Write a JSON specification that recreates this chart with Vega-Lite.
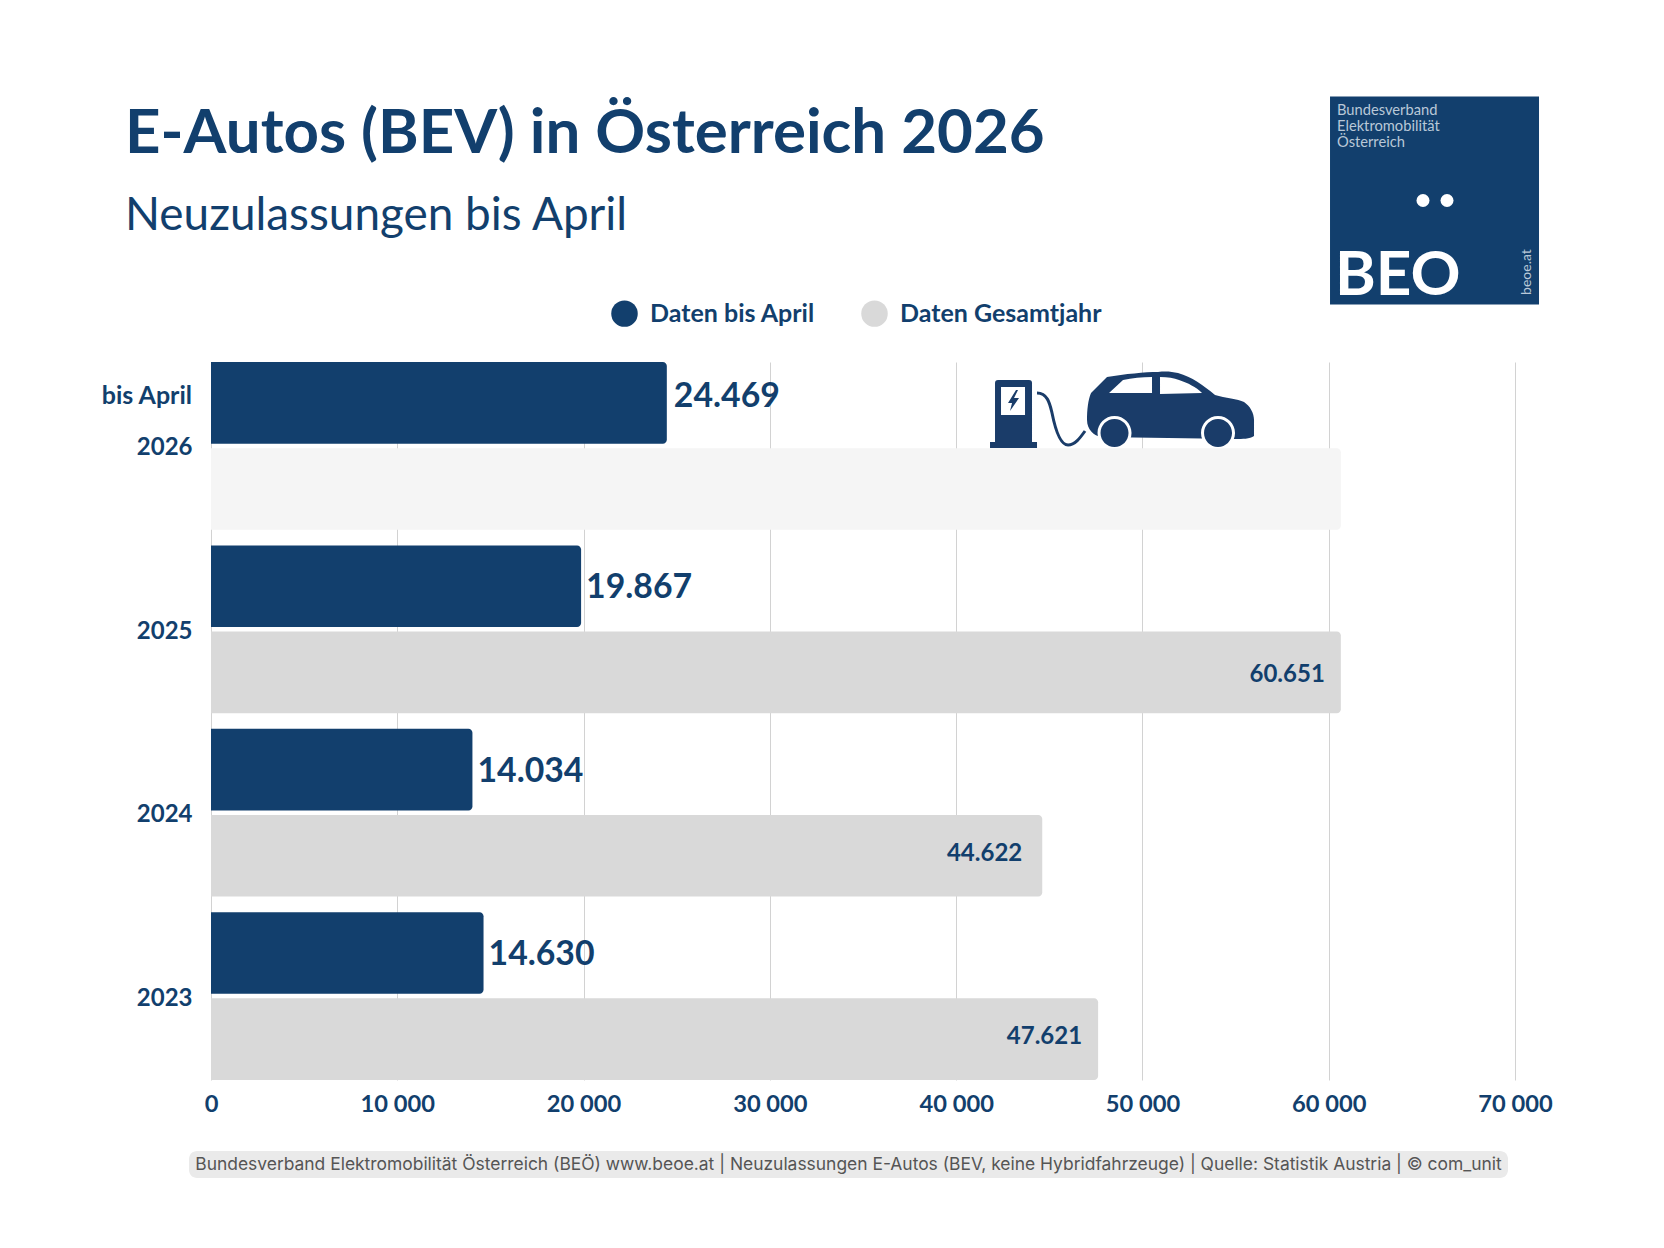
{
  "$schema": "https://vega.github.io/schema/vega-lite/v6.json",
  "description": "E-Autos (BEV) in Oesterreich 2026",
  "background": "white",
  "autosize": "none",
  "width": 1304,
  "height": 718,
  "padding": {"left": 211, "top": 362, "right": 149, "bottom": 168},
  "title": {
    "text": "E-Autos (BEV) in Österreich 2026",
    "subtitle": "Neuzulassungen bis April",
    "anchor": "start",
    "frame": "group",
    "dx": -86,
    "offset": -142,
    "font": "Lato",
    "fontSize": 61.8,
    "fontWeight": "bold",
    "color": "#123f6d",
    "subtitleFont": "Lato",
    "subtitleFontSize": 45.9,
    "subtitleFontWeight": "normal",
    "subtitleColor": "#123f6d",
    "subtitlePadding": 28
  },
  "layer": [
    {
      "data": {"values": [{}]},
      "layer": [
        {
          "mark": {"type": "rect", "color": "#123f6d"},
          "encoding": {
            "x": {"datum": 60070, "type": "quantitative", "scale": {"domain": [0, 70000], "nice": false}},
            "x2": {"datum": 71289},
            "y": {"datum": 96.5, "type": "quantitative", "axis": null, "scale": {"domain": [362, 1080], "reverse": true, "nice": false}},
            "y2": {"datum": 304.6}
          }
        },
        {
          "mark": {"type": "text", "text": ["Bundesverband", "Elektromobilität", "Österreich"], "font": "Lato", "fontSize": 14.7, "lineHeight": 16, "align": "left", "baseline": "middle", "color": "#b9c8d8"},
          "encoding": {
            "x": {"datum": 60446, "type": "quantitative"},
            "y": {"datum": 111, "type": "quantitative", "axis": null}
          }
        },
        {
          "mark": {"type": "point", "shape": "circle", "filled": true, "opacity": 1, "size": 169, "color": "white"},
          "encoding": {
            "x": {"datum": 65061, "type": "quantitative"},
            "y": {"datum": 200.5, "type": "quantitative", "axis": null}
          }
        },
        {
          "mark": {"type": "point", "shape": "circle", "filled": true, "opacity": 1, "size": 169, "color": "white"},
          "encoding": {
            "x": {"datum": 66350, "type": "quantitative"},
            "y": {"datum": 200.5, "type": "quantitative", "axis": null}
          }
        },
        {
          "mark": {"type": "text", "text": "BEO", "font": "Lato", "fontSize": 62, "fontWeight": "bold", "align": "left", "baseline": "alphabetic", "color": "white"},
          "encoding": {
            "x": {"datum": 60338, "type": "quantitative"},
            "y": {"datum": 295, "type": "quantitative", "axis": null}
          }
        },
        {
          "mark": {"type": "text", "text": "beoe.at", "font": "Lato", "fontSize": 14, "angle": 270, "align": "center", "baseline": "middle", "color": "#b9c8d8"},
          "encoding": {
            "x": {"datum": 70644, "type": "quantitative"},
            "y": {"datum": 272, "type": "quantitative", "axis": null}
          }
        },
        {
          "mark": {"type": "point", "filled": true, "opacity": 1, "size": 4, "color": "#1a3c69", "shape": "M-83,10 C-83,0 -82,-10 -79,-17 L-63,-33 C-45,-36 -25,-38 -12,-38 C-3,-39 2,-38 8,-37 C22,-33 33,-25 45,-15 C55,-12 68,-11 74,-8 C80,-4 84,3 84,10 L84,26 C80,29 72,29 66,29 L-70,27 C-76,25 -83,20 -83,10 Z M-175,-27 Q-175,-30 -172,-30 L-141,-30 Q-138,-30 -138,-27 L-138,32 L-133,32 L-133,38 L-180,38 L-180,32 L-175,32 Z"},
          "encoding": {
            "x": {"datum": 51481, "type": "quantitative"},
            "y": {"datum": 410, "type": "quantitative", "axis": null}
          }
        },
        {
          "mark": {"type": "point", "filled": true, "opacity": 1, "size": 4, "color": "white", "shape": "M-61,-17 L-47,-30 C-38,-32 -28,-33 -18,-33 L-18,-17 Z M-10,-33 C-2,-33 4,-32 9,-30 C18,-27 26,-23 32,-17 L-10,-16 Z M-72.5,23 A17,17 0 1,1 -38.5,23 A17,17 0 1,1 -72.5,23 Z M31,23 A17,17 0 1,1 65,23 A17,17 0 1,1 31,23 Z M-169,-23 L-145,-23 L-145,5 L-169,5 Z"},
          "encoding": {
            "x": {"datum": 51481, "type": "quantitative"},
            "y": {"datum": 410, "type": "quantitative", "axis": null}
          }
        },
        {
          "mark": {"type": "point", "filled": true, "opacity": 1, "size": 4, "color": "#1a3c69", "shape": "M-69.5,23 A14,14 0 1,1 -41.5,23 A14,14 0 1,1 -69.5,23 Z M34,23 A14,14 0 1,1 62,23 A14,14 0 1,1 34,23 Z M-154,-20 L-162,-7 L-158,-7 L-160,1 L-151,-12 L-156,-12 L-152,-20 Z"},
          "encoding": {
            "x": {"datum": 51481, "type": "quantitative"},
            "y": {"datum": 410, "type": "quantitative", "axis": null}
          }
        },
        {
          "mark": {"type": "point", "filled": false, "opacity": 1, "size": 4, "strokeWidth": 3, "color": "#1a3c69", "shape": "M-133,-17 C-122,-17 -120,-5 -118,3 C-115,18 -110,35 -102,35 C-95,35 -90,28 -85,21"},
          "encoding": {
            "x": {"datum": 51481, "type": "quantitative"},
            "y": {"datum": 410, "type": "quantitative", "axis": null}
          }
        },
        {
          "mark": {"type": "rect", "color": "#eaeaea", "cornerRadius": 8},
          "encoding": {
            "x": {"datum": -1181, "type": "quantitative"},
            "x2": {"datum": 69626},
            "y": {"datum": 1151, "type": "quantitative", "axis": null},
            "y2": {"datum": 1178}
          }
        },
        {
          "mark": {"type": "text", "text": "Bundesverband Elektromobilität Österreich (BEÖ) www.beoe.at | Neuzulassungen E-Autos (BEV, keine Hybridfahrzeuge) | Quelle: Statistik Austria | © com_unit", "font": "Inter", "fontSize": 17.43, "align": "center", "baseline": "middle", "color": "#555555"},
          "encoding": {
            "x": {"datum": 34222, "type": "quantitative"},
            "y": {"datum": 1164.5, "type": "quantitative", "axis": null}
          }
        }
      ]
    },
    {
      "data": {
        "values": [
          {"year": "2026", "series": "Daten bis April", "value": 24469, "label": "24.469"},
          {"year": "2026", "series": "Daten Gesamtjahr", "value": 60651, "label": null},
          {"year": "2025", "series": "Daten bis April", "value": 19867, "label": "19.867"},
          {"year": "2025", "series": "Daten Gesamtjahr", "value": 60651, "label": "60.651"},
          {"year": "2024", "series": "Daten bis April", "value": 14034, "label": "14.034"},
          {"year": "2024", "series": "Daten Gesamtjahr", "value": 44622, "label": "44.622"},
          {"year": "2023", "series": "Daten bis April", "value": 14630, "label": "14.630"},
          {"year": "2023", "series": "Daten Gesamtjahr", "value": 47621, "label": "47.621"}
        ]
      },
      "encoding": {
        "y": {
          "field": "year",
          "type": "nominal",
          "sort": ["2026", "2025", "2024", "2023"],
          "title": null,
          "scale": {"paddingInner": 0.0847, "paddingOuter": 0},
          "axis": {
            "domain": false,
            "ticks": false,
            "grid": false,
            "labelFont": "Lato",
            "labelFontSize": 24,
            "labelFontWeight": "bold",
            "labelColor": "#123f6d",
            "labelPadding": 19,
            "labelOffset": 2.5
          }
        },
        "yOffset": {
          "field": "series",
          "type": "nominal",
          "scale": {"domain": ["Daten bis April", "Daten Gesamtjahr"], "paddingInner": 0.052, "paddingOuter": 0}
        },
        "x": {
          "field": "value",
          "type": "quantitative",
          "stack": null,
          "title": null,
          "scale": {"domain": [0, 70000], "nice": false},
          "axis": {
            "values": [0, 10000, 20000, 30000, 40000, 50000, 60000, 70000],
            "labelExpr": "replace(format(datum.value, ','), ',', ' ')",
            "domain": false,
            "ticks": false,
            "grid": true,
            "gridColor": "#d2d2d2",
            "labelFont": "Lato",
            "labelFontSize": 23.7,
            "labelFontWeight": "bold",
            "labelColor": "#123f6d",
            "labelPadding": 12,
            "labelFlush": false,
            "labelOverlap": false
          }
        }
      },
      "layer": [
        {
          "mark": {"type": "bar", "cornerRadiusEnd": 4},
          "encoding": {
            "color": {
              "condition": {"test": "datum.year == '2026' && datum.series == 'Daten Gesamtjahr'", "value": "#f5f5f5"},
              "field": "series",
              "type": "nominal",
              "scale": {"domain": ["Daten bis April", "Daten Gesamtjahr"], "range": ["#123f6d", "#d9d9d9"]},
              "legend": {
                "title": null,
                "orient": "none",
                "legendX": 400,
                "legendY": -62,
                "direction": "horizontal",
                "columns": 2,
                "columnPadding": 46,
                "symbolType": "circle",
                "symbolSize": 702,
                "symbolStrokeWidth": 0,
                "labelFont": "Lato",
                "labelFontSize": 25,
                "labelFontWeight": "bold",
                "labelColor": "#123f6d",
                "labelOffset": 12,
                "labelLimit": 400
              }
            }
          }
        },
        {
          "transform": [{"filter": "datum.series == 'Daten bis April' && datum.year != '2026'"}],
          "mark": {"type": "text", "align": "left", "baseline": "middle", "dx": 5, "dy": 2, "font": "Lato", "fontSize": 33.8, "fontWeight": "bold", "color": "#123f6d"},
          "encoding": {"text": {"field": "label"}}
        },
        {
          "transform": [{"filter": "datum.series == 'Daten bis April' && datum.year == '2026'"}],
          "mark": {"type": "text", "align": "left", "baseline": "middle", "dx": 7, "dy": -6, "font": "Lato", "fontSize": 33.8, "fontWeight": "bold", "color": "#123f6d"},
          "encoding": {"text": {"field": "label"}}
        },
        {
          "transform": [{"filter": "datum.series == 'Daten Gesamtjahr' && datum.year == '2025'"}],
          "mark": {"type": "text", "align": "right", "baseline": "middle", "dx": -16, "dy": 3, "font": "Lato", "fontSize": 24, "fontWeight": "bold", "color": "#123f6d"},
          "encoding": {"text": {"field": "label"}}
        },
        {
          "transform": [{"filter": "datum.series == 'Daten Gesamtjahr' && datum.year == '2024'"}],
          "mark": {"type": "text", "align": "right", "baseline": "middle", "dx": -20, "dy": -2, "font": "Lato", "fontSize": 24, "fontWeight": "bold", "color": "#123f6d"},
          "encoding": {"text": {"field": "label"}}
        },
        {
          "transform": [{"filter": "datum.series == 'Daten Gesamtjahr' && datum.year == '2023'"}],
          "mark": {"type": "text", "align": "right", "baseline": "middle", "dx": -16, "dy": -2, "font": "Lato", "fontSize": 24, "fontWeight": "bold", "color": "#123f6d"},
          "encoding": {"text": {"field": "label"}}
        },
        {
          "transform": [{"filter": "datum.series == 'Daten bis April' && datum.year == '2026'"}],
          "mark": {"type": "text", "text": "bis April", "align": "right", "baseline": "middle", "dx": -19, "dy": -7, "font": "Lato", "fontSize": 25, "fontWeight": "bold", "color": "#123f6d"},
          "encoding": {"x": {"datum": 0}}
        }
      ]
    }
  ],
  "resolve": {"scale": {"y": "independent"}},
  "config": {"view": {"stroke": null}}
}
